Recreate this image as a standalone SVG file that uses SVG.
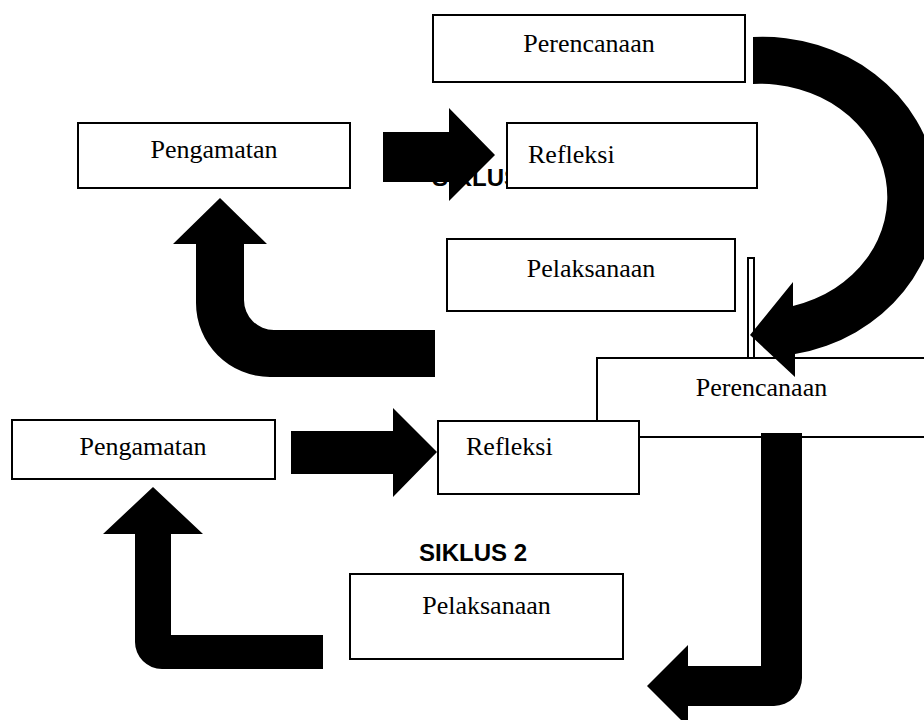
<svg xmlns="http://www.w3.org/2000/svg" width="924" height="720" viewBox="0 0 924 720">
<style>
.box{fill:#fff;stroke:#000;stroke-width:2}
.lbl{font-family:"Liberation Serif","Times New Roman",serif;font-size:26px;fill:#000}
.c{text-anchor:middle}
.sik{font-family:"Liberation Sans",Arial,sans-serif;font-size:24px;font-weight:bold;fill:#000}
.arr{fill:#000;stroke:none}
</style>
<rect width="924" height="720" fill="#fff"/>
<text class="sik" x="432" y="186">SIKLUS 1</text>
<text class="sik" x="473" y="561" text-anchor="middle">SIKLUS 2</text>
<g id="n-perencanaan-2">
<rect class="box" x="597" y="358" width="330" height="79"/>
<text class="lbl c" x="761.5" y="396">Perencanaan</text>
</g>
<g id="n-perencanaan-1">
<rect class="box" x="433" y="15" width="312" height="67"/>
<text class="lbl c" x="589" y="52">Perencanaan</text>
</g>
<g id="n-pengamatan-1">
<rect class="box" x="78" y="123" width="272" height="65"/>
<text class="lbl c" x="214" y="158">Pengamatan</text>
</g>
<g id="n-refleksi-1">
<rect class="box" x="507" y="123" width="250" height="65"/>
<text class="lbl" x="528" y="163">Refleksi</text>
</g>
<g id="n-pelaksanaan-1">
<rect class="box" x="447" y="239" width="288" height="72"/>
<text class="lbl c" x="591" y="277">Pelaksanaan</text>
</g>
<g id="n-bar">
<rect class="box" x="748" y="258" width="6" height="100"/>
</g>
<g id="n-pengamatan-2">
<rect class="box" x="12" y="420" width="263" height="59"/>
<text class="lbl c" x="143" y="455">Pengamatan</text>
</g>
<g id="n-refleksi-2">
<rect class="box" x="438" y="421" width="201" height="73"/>
<text class="lbl" x="466" y="455">Refleksi</text>
</g>
<g id="n-pelaksanaan-2">
<rect class="box" x="350" y="574" width="273" height="85"/>
<text class="lbl c" x="486.5" y="614">Pelaksanaan</text>
</g>
<g id="connectors">
<path class="arr" d="M383 132 L449 132 L449 108 L495 155 L449 201 L449 182 L383 182 Z"/>
<path class="arr" d="M291 431 L393 431 L393 408 L437 452 L393 497 L393 474 L291 474 Z"/>
<path class="arr" d="M435 330 L274 330 A30 30 0 0 1 244 300 L244 244 L267 244 L220 198 L173 244 L196 244 L196 303 A74 74 0 0 0 270 377 L435 377 Z"/>
<path class="arr" d="M323 635 L171 635 L171 534 L203 534 L153 487 L103 534 L135 534 L135 642 A27 27 0 0 0 162 669 L323 669 Z"/>
<path class="arr" d="M761 433 L802 433 L802 678 A28 28 0 0 1 774 706 L688 706 L688 727 L647 686 L688 645 L688 666 L761 666 Z"/>
<path class="arr" d="M753 37 A175 160 0 0 1 795 354 L795 377 L750 335 L793 282 L793 306 A127 113 0 0 0 753 84 Z"/>
</g>
</svg>
